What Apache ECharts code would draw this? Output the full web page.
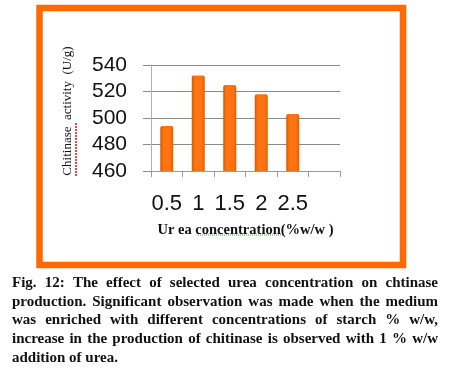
<!DOCTYPE html>
<html><head><meta charset="utf-8">
<script src="https://cdn.jsdelivr.net/npm/echarts@6/dist/echarts.min.js"></script>
<style>html,body{margin:0;padding:0;background:#fff}#c{width:453px;height:373px}</style>
</head><body><div id="c"></div>
<script>
const categories = ['0.5', '1', '1.5', '2', '2.5', ''];
const activity = [494, 532, 525, 518, 503, null];
const yTicks = { min: 460, max: 540, interval: 20 };
const yTitle = 'Chitinase  activity  (U/g)';
const xTitle = 'Ur ea concentration(%w/w )';
const captionLines = [
  'Fig. 12: The effect of selected urea concentration on chtinase',
  'production. Significant observation was made when the medium',
  'was enriched with different concentrations of starch % w/w,',
  'increase in the production of chitinase is observed with 1 % w/w',
  'addition of urea.'
];

const chart = echarts.init(document.getElementById('c'), null, {renderer: 'canvas'});

// justified caption words
const capFont = 'bold 15px "Liberation Serif"';
const ctx = document.createElement('canvas').getContext('2d');
ctx.font = capFont;
const capLeft = 12, capRight = 438, capTop = 283, capStep = 18.8;
const captionEls = [];
captionLines.forEach((line, li) => {
  const words = line.split(' ');
  const widths = words.map(w => ctx.measureText(w).width);
  const total = widths.reduce((a, b) => a + b, 0);
  const last = li === captionLines.length - 1;
  const gap = last ? ctx.measureText(' ').width : (capRight - capLeft - total) / (words.length - 1);
  let x = capLeft;
  words.forEach((w, i) => {
    captionEls.push({
      type: 'text', x: x, y: capTop + li * capStep,
      style: { text: w, font: capFont, fill: '#111', textVerticalAlign: 'middle' }
    });
    x += widths[i] + gap;
  });
});

chart.setOption({
  animation: false,
  backgroundColor: '#fff',
  grid: { left: 151, right: 113, top: 65, bottom: 202 },
  xAxis: {
    type: 'category',
    data: categories,
    axisLine: { show: true, lineStyle: { color: '#9a9a9a', width: 1 } },
    axisTick: { show: true, length: 6, lineStyle: { color: '#9a9a9a' } },
    axisLabel: { interval: 0, hideOverlap: false, fontFamily: 'Liberation Sans', fontSize: 22, color: '#111', margin: 22 },
    name: xTitle,
    nameLocation: 'middle',
    nameGap: 52,
    nameTextStyle: { fontFamily: 'Liberation Serif', fontWeight: 'bold', fontSize: 14.5, color: '#111' }
  },
  yAxis: {
    type: 'value',
    min: yTicks.min, max: yTicks.max, interval: yTicks.interval,
    axisLine: { show: true, lineStyle: { color: '#b0b0b0', width: 1 } },
    axisTick: { show: true, length: 8, lineStyle: { color: '#8a8a8a' } },
    axisLabel: { fontFamily: 'Liberation Sans', fontSize: 21, color: '#111', margin: 24 },
    splitLine: { show: true, lineStyle: { color: '#8a8a8a', width: 1 } }
  },
  series: [{
    type: 'bar',
    data: activity,
    barWidth: 13,
    itemStyle: {
      color: new echarts.graphic.LinearGradient(0, 0, 1, 0, [
        { offset: 0, color: '#D85800' },
        { offset: 0.25, color: '#FF7410' },
        { offset: 0.75, color: '#FF7410' },
        { offset: 1, color: '#E06000' }
      ]),
      borderRadius: [2, 2, 0, 0]
    }
  }],
  graphic: [
    { type: 'rect', shape: { x: 39.5, y: 8, width: 363.5, height: 257 },
      style: { fill: 'none', stroke: '#FF6A00', lineWidth: 6.5 }, z: 10 },
    { type: 'text', x: 68, y: 111, rotation: Math.PI / 2,
      style: { text: yTitle, font: '13px "Liberation Serif"', fill: '#111',
               textAlign: 'center', textVerticalAlign: 'middle' } },
    { type: 'line', shape: { x1: 76, y1: 123, x2: 76, y2: 177 },
      style: { stroke: '#D01010', lineWidth: 1.5, lineDash: [2, 1] } },
    { type: 'line', shape: { x1: 198, y1: 235, x2: 283, y2: 235 },
      style: { stroke: '#40B040', lineWidth: 1, lineDash: [1, 1] } }
  ].concat(captionEls)
});
</script>
</body></html>
